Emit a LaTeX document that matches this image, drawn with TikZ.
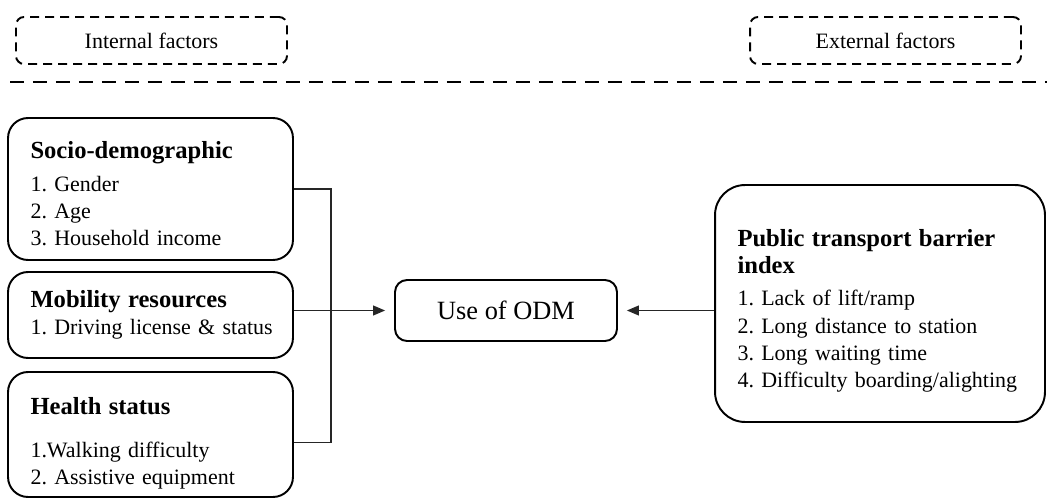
\documentclass[tikz,border=0pt]{standalone}
\usepackage{fontspec}
\setmainfont{Liberation Serif}
\usetikzlibrary{arrows.meta}
\frenchspacing
\hyphenpenalty=10000

\tikzset{
  factor/.style={draw, line width=1.1pt, rounded corners=0.4cm, align=left,
    text width=4.8cm, inner xsep=0.45cm, minimum width=5.7cm,
    font=\fontsize{12.5}{15.5}\selectfont},
  sidehead/.style={draw, line width=1.1pt, dash pattern=on 0.18cm off 0.12cm,
    rounded corners=0.16cm, minimum width=5.42cm, minimum height=0.94cm,
    font=\fontsize{12.5}{15}\selectfont},
  link/.style={line width=0.6pt, draw=black!85},
  feed/.style={link, -{Triangle[length=0.24cm,width=0.2cm]}, shorten >=0.18cm}
}
\newcommand{\facttitle}[1]{{\fontsize{14}{18}\selectfont\bfseries #1}}
\newcommand{\topgap}[1]{\rule{0pt}{#1}}

\begin{document}
\begin{tikzpicture}[x=0.02cm, y=-0.02cm]
\useasboundingbox (0,0) rectangle (1047,500);

% headings
\node[sidehead] (internal) at (151.5,40.5) {Internal factors};
\node[sidehead] (external) at (885.5,40.5) {External factors};
\draw[line width=1.1pt, dash pattern=on 0.28cm off 0.18cm] (10,82) -- (1047,82);

% internal factors
\node[factor, minimum height=2.84cm] (socio) at (150.5,189)
  {\topgap{15pt}\facttitle{Socio-demographic}\\[3pt]
   1. Gender\\ 2. Age\\ 3. Household income};
\node[factor, minimum height=1.72cm] (mobility) at (150.5,315)
  {\facttitle{Mobility resources}\\
   \mbox{1. Driving license \& status}};
\node[factor, minimum height=2.5cm] (health) at (150.5,434.5)
  {\topgap{20pt}\facttitle{Health status}\\[9pt]
   1.Walking difficulty\\ 2. Assistive equipment};

% outcome
\node[draw, line width=1.1pt, rounded corners=0.24cm, minimum width=4.44cm,
  minimum height=1.22cm, font=\fontsize{15}{18}\selectfont] (odm) at (506,310.5) {Use of ODM};

% external factor
\node[factor, rounded corners=0.6cm, text width=5.7cm, minimum width=6.6cm,
  minimum height=4.74cm] (barrier) at (880,303.5)
  {\topgap{18pt}\facttitle{Public transport barrier}\\ \facttitle{index}\\[3pt]
   1. Lack of lift/ramp\\ 2. Long distance to station\\
   3. Long waiting time\\ 4. Difficulty boarding/alighting};

% connectors
\coordinate (spine) at (331,0);
\draw[link] (socio.east) -- (socio.east -| spine) |- ([yshift=-0.16cm]health.east);
\draw[feed] (mobility.east |- odm.west) -- (odm.west);
\draw[feed] (barrier.west |- odm.east) -- (odm.east);

\end{tikzpicture}
\end{document}
